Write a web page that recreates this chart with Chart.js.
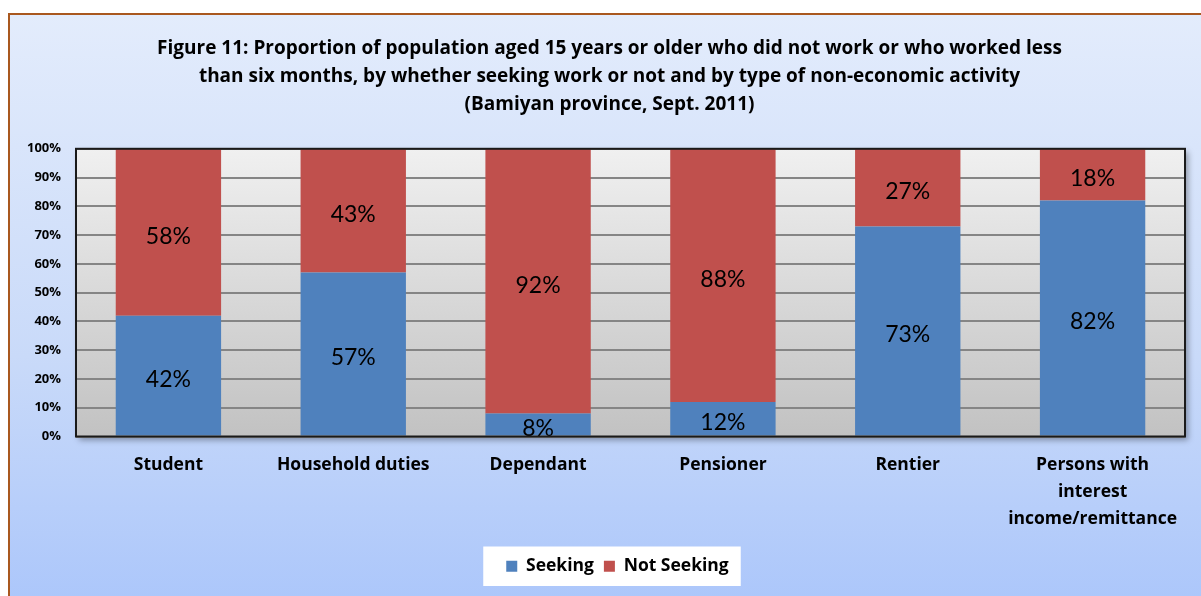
<!DOCTYPE html>
<html>
<head>
<meta charset="utf-8">
<script src="https://cdn.jsdelivr.net/npm/chart.js@4"></script>
<style>
  html, body { margin: 0; padding: 0; background: #fff; overflow: hidden; }
  body { width: 1201px; height: 596px; position: relative; }
  .frame {
    position: absolute; left: 8px; top: 13px; width: 1220px; height: 620px;
    border: 2px solid #a9581f;
    background: linear-gradient(to bottom, #e3ecfc 0%, #c9daf9 55%, #a8c4fb 100%);
  }
  #wrap { position: absolute; left: 0; top: 0; width: 1201px; height: 596px; }
</style>
</head>
<body>
<div class="frame"></div>
<div id="wrap"><canvas id="chart"></canvas></div>
<script>
"use strict";
const categories = ["Student", "Household duties", "Dependant", "Pensioner", "Rentier",
  ["Persons with", "interest", "income/remittance"]];
const seeking = [42, 57, 8, 12, 73, 82];
const notSeeking = [58, 43, 92, 88, 27, 18];
const yTicks = [0, 10, 20, 30, 40, 50, 60, 70, 80, 90, 100];
const titleLines = [
  "Figure 11: Proportion of population aged 15 years or older who did not work or who worked less",
  "than six months, by whether seeking work or not and by type of non-economic activity",
  "(Bamiyan province, Sept. 2011)"
];

const FONT = "Lato, 'Open Sans', sans-serif";
const BOLD = "'Open Sans', Lato, sans-serif";

// nudge title and legend a little to the right, like the original
const nudge = {
  id: "nudge",
  afterLayout(chart) {
    const t = chart.titleBlock;
    t.left += 13; t.right += 13;
    const lg = chart.legend;
    lg.left += 21; lg.right += 21;
    (lg.legendHitBoxes || []).forEach(b => { b.left += 21; });
  }
};

// plot area gradient + frame shadow
const plotBg = {
  id: "plotBg",
  beforeDraw(chart) {
    const { ctx, chartArea: a } = chart;
    ctx.save();
    ctx.shadowColor = "rgba(0,0,0,0.35)";
    ctx.shadowBlur = 6;
    ctx.shadowOffsetX = 3;
    ctx.shadowOffsetY = 3;
    const g = ctx.createLinearGradient(0, a.top, 0, a.bottom);
    g.addColorStop(0, "#f0f0f0");
    g.addColorStop(1, "#c2c2c2");
    ctx.fillStyle = g;
    ctx.fillRect(a.left, a.top, a.right - a.left, a.bottom - a.top);
    ctx.restore();
  },
  afterDraw(chart) {
    const { ctx, chartArea: a } = chart;
    ctx.save();
    ctx.strokeStyle = "#1a1a1a";
    ctx.lineWidth = 2;
    ctx.strokeRect(a.left, a.top, a.right - a.left, a.bottom - a.top);
    ctx.restore();
  }
};

// white box behind legend
const legendBox = {
  id: "legendBox",
  beforeDraw(chart) {
    const boxes = chart.legend.legendHitBoxes;
    if (!boxes || !boxes.length) return;
    const l = Math.min(...boxes.map(b => b.left)) - 23;
    const r = Math.max(...boxes.map(b => b.left + b.width)) + 12;
    const t = Math.min(...boxes.map(b => b.top)) - 11;
    const btm = Math.max(...boxes.map(b => b.top + b.height)) + 11;
    const { ctx } = chart;
    ctx.save();
    ctx.fillStyle = "#ffffff";
    ctx.fillRect(l, t, r - l, btm - t);
    ctx.restore();
  }
};

// value labels centred in each segment
const valueLabels = {
  id: "valueLabels",
  afterDatasetsDraw(chart) {
    const { ctx } = chart;
    ctx.save();
    ctx.font = "23px " + FONT;
    ctx.fillStyle = "#000";
    ctx.textAlign = "center";
    ctx.textBaseline = "middle";
    chart.data.datasets.forEach((ds, i) => {
      chart.getDatasetMeta(i).data.forEach((bar, j) => {
        ctx.fillText(ds.data[j] + "%", bar.x, (bar.y + bar.base) / 2 + 4);
      });
    });
    ctx.restore();
  }
};

new Chart(document.getElementById("chart"), {
  type: "bar",
  data: {
    labels: categories,
    datasets: [
      { label: "Seeking", data: seeking, backgroundColor: "#4f81bd" },
      { label: "Not Seeking", data: notSeeking, backgroundColor: "#c0504d" }
    ]
  },
  options: {
    responsive: true,
    maintainAspectRatio: false,
    animation: false,
    datasets: { bar: { barPercentage: 0.57, categoryPercentage: 1 } },
    layout: { padding: { left: 8, right: 16, top: 0, bottom: 11 } },
    scales: {
      x: {
        stacked: true,
        grid: { display: false, drawTicks: false },
        border: { display: false },
        ticks: { color: "#000", font: { family: BOLD, size: 17.5, weight: "bold", lineHeight: 1.54 }, padding: 15, maxRotation: 0, autoSkip: false },
        afterFit(s) { s.height = 111; }
      },
      y: {
        stacked: true,
        min: 0, max: 100,
        afterBuildTicks(s) { s.ticks = yTicks.map(v => ({ value: v })); },
        grid: { color: "#858585", lineWidth: 2, drawTicks: false },
        border: { display: false },
        ticks: { color: "#000", font: { family: BOLD, size: 13, weight: "bold" }, padding: 15, callback: v => v + "%" },
        afterFit(s) { s.width = 68; }
      }
    },
    plugins: {
      title: {
        display: true,
        text: titleLines,
        color: "#000",
        font: { family: BOLD, size: 19, weight: "bold", lineHeight: 1.47 },
        padding: { top: 35, bottom: 30 }
      },
      legend: {
        position: "bottom",
        labels: {
          color: "#000",
          boxWidth: 11, boxHeight: 11,
          padding: 10,
          font: { family: BOLD, size: 17.5, weight: "bold" }
        }
      },
      tooltip: { enabled: false }
    }
  },
  plugins: [nudge, plotBg, legendBox, valueLabels]
});
</script>
</body>
</html>
